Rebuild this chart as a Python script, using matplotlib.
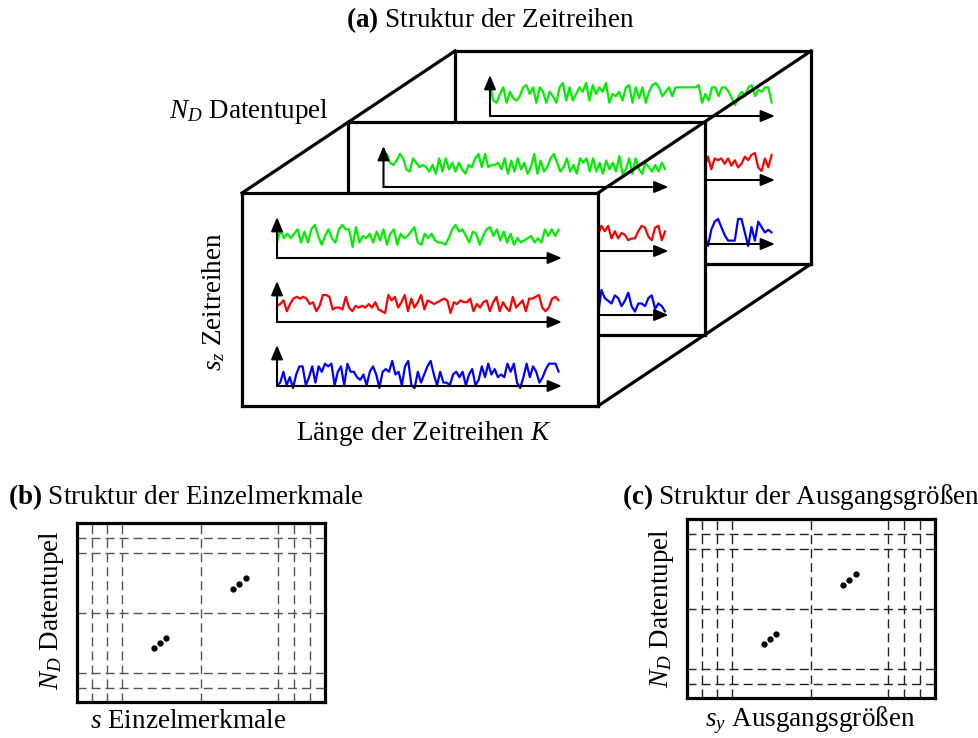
import numpy as np
import matplotlib
matplotlib.use('Agg')
import matplotlib.pyplot as plt

plt.rcParams['font.family'] = ['Liberation Serif', 'DejaVu Serif']
plt.rcParams['mathtext.fontset'] = 'custom'
plt.rcParams['mathtext.rm'] = 'Liberation Serif'
plt.rcParams['mathtext.it'] = 'Liberation Serif:italic'
plt.rcParams['mathtext.bf'] = 'Liberation Serif:bold'

# ---- data: time series (amplitude 0..10) ----
K = 85  # samples per series
front_green = [2, 8, 4, 6, 4, 6, 8, 2, 7, 2, 8, 10, 5, 1, 5, 8, 4, 2, 8, 10, 8, 8, 0, 9, 2, 5, 4, 6, 2, 7,
               3, 8, 1, 6, 8, 1, 6, 4, 5, 7, 9, 2, 1, 6, 4, 6, 3, 2, 2, 1, 4, 8, 10, 7, 8, 5, 2, 7, 6, 1,
               5, 8, 9, 5, 8, 3, 7, 2, 6, 1, 4, 2, 3, 4, 5, 2, 4, 2, 8, 5, 8, 5, 8]
front_red = [4, 5, 7, 1, 5, 8, 9, 8, 9, 8, 5, 6, 1, 4, 10, 10, 9, 2, 3, 3, 2, 9, 3, 1, 4, 3, 4, 3, 5, 3,
             6, 2, 1, 0, 10, 7, 9, 3, 6, 10, 1, 8, 3, 6, 10, 2, 7, 6, 5, 6, 7, 8, 7, 0, 6, 5, 7, 6, 6, 8,
             1, 5, 3, 6, 7, 1, 6, 9, 1, 6, 3, 1, 9, 3, 5, 7, 1, 8, 8, 9, 10, 3, 1, 3, 8, 9, 7]
front_blue = [1, 2, 6, 1, 4, 0, 5, 8, 8, 1, 4, 8, 2, 8, 6, 9, 8, 9, 1, 6, 8, 1, 9, 6, 6, 4, 3, 5, 1, 6,
              8, 5, 0, 6, 7, 6, 10, 5, 6, 1, 8, 10, 1, 0, 6, 2, 5, 8, 10, 5, 1, 6, 2, 2, 1, 5, 6, 4, 6, 1,
              5, 7, 1, 3, 8, 4, 9, 5, 7, 4, 5, 4, 9, 6, 9, 2, 0, 4, 9, 4, 8, 6, 2, 4, 7, 9, 9, 9, 6]
mid_green = [8, 10, 6, 5, 7, 10, 8, 3, 2, 8, 6, 4, 5, 4, 2, 5, 1, 8, 2, 8, 3, 6, 2, 6, 3, 1, 5, 4, 8, 10,
             4, 10, 4, 5, 5, 6, 3, 8, 1, 7, 2, 8, 3, 6, 1, 4, 10, 1, 7, 2, 4, 8, 10, 6, 2, 4, 8, 2, 5, 1,
             8, 6, 8, 2, 8, 2, 6, 1, 7, 3, 6, 2, 9, 1, 3, 8, 1, 8, 3, 1, 6, 4, 2, 5, 2, 6, 3]
# only the visible tail of the hidden series
mid_red = [3, 7, 6, 7, 4, 9, 6, 9, 2, 6, 2, 5, 4, 1, 2, 2, 6, 9, 8, 3, 1, 8, 9, 1, 6]
mid_blue = [6, 3, 1, 4, 1, 10, 1, 10, 7, 6, 5, 8, 7, 4, 6, 9, 4, 2, 5, 5, 4, 7, 8, 3, 5, 4, 2]
back_green = [9, 2, 1, 5, 8, 1, 6, 3, 2, 4, 8, 9, 5, 8, 1, 8, 6, 1, 6, 4, 1, 8, 10, 2, 8, 2, 5, 8, 6, 10,
              2, 9, 5, 8, 6, 10, 1, 5, 4, 6, 2, 8, 9, 1, 8, 3, 8, 1, 6, 9, 10, 8, 4, 6, 8, 4, 8, 8, 8, 8,
              8, 8, 8, 9, 1, 5, 2, 8, 8, 4, 8, 8, 6, 3, 0, 4, 6, 4, 8, 9, 4, 7, 6, 8, 8, 1]
back_red = [5, 8, 3, 2, 8, 1, 7, 6, 7, 4, 7, 3, 6, 2, 4, 8, 6, 9, 10, 2, 0, 7, 2, 9]
back_blue = [3, 6, 10, 4, 0, 6, 9, 10, 7, 4, 2, 2, 2, 10, 10, 5, 0, 7, 2, 9, 7, 5, 6, 5]

colors = ['#00ee00', '#ff0000', '#0000ff']
ylims = [(-5, 13.6), (-5, 17.8), (0.74, 15.9)]

# grid panels (b) and (c): fractions of the box
grid_x = [0.06, 0.12, 0.18, 0.50, 0.81, 0.875, 0.94]
grid_y = [0.084, 0.168, 0.50, 0.84, 0.92]
dots_x = [0.31, 0.335, 0.36, 0.63, 0.655, 0.68]
dots_y = [0.70, 0.67, 0.64, 0.37, 0.34, 0.31]

W, H = 979, 738
fig = plt.figure(figsize=(W / 100, H / 100), dpi=100)


def rect(x0, y0, x1, y1):
    return [x0 / W, 1 - y1 / H, (x1 - x0) / W, (y1 - y0) / H]


arrow = dict(arrowstyle='-|>,head_length=0.6,head_width=0.25', color='black',
             lw=1.5, mutation_scale=14, shrinkA=0, shrinkB=0)

# ---- (a) stacked boxes ----
box_w, box_h = 356, 213
fx, fy = 242, 193
dx, dy = 106.5, -71
boxes = [(2, [back_green, back_red, back_blue]),
         (1, [mid_green, mid_red, mid_blue]),
         (0, [front_green, front_red, front_blue])]

for depth, series in boxes:
    L = fx + depth * dx
    T = fy + depth * dy
    z = 3 - depth
    bx = fig.add_axes(rect(L, T, L + box_w, T + box_h), zorder=z)
    bx.set_xticks([])
    bx.set_yticks([])
    bx.set_facecolor('white')
    for s in bx.spines.values():
        s.set_linewidth(2.3)
    for i, vals in enumerate(series):
        top = T + 24 + 64 * i
        base = T + 65 + 64 * i
        cx = fig.add_axes(rect(L + 35, top, L + 320, base), zorder=z + 0.1)
        cx.set_xlim(0, K)
        cx.set_ylim(*ylims[i])
        cx.axis('off')
        cx.patch.set_visible(False)
        n = len(vals)
        x = np.linspace(0, K - 1, n) if n > 40 else np.arange(K - n, K)
        cx.plot(x, vals, color=colors[i], lw=1.6, clip_on=False,
                solid_joinstyle='round', solid_capstyle='round')
        cx.annotate('', xy=(0, 1), xytext=(0, 0), xycoords='axes fraction',
                    arrowprops=arrow, annotation_clip=False)
        cx.annotate('', xy=(1, 0), xytext=(0, 0), xycoords='axes fraction',
                    arrowprops=arrow, annotation_clip=False)

# overlay for connecting edges and texts
ax = fig.add_axes([0, 0, 1, 1], zorder=10)
ax.set_xlim(0, W)
ax.set_ylim(H, 0)
ax.axis('off')
ax.patch.set_visible(False)
for cx_, cy_ in [(fx, fy), (fx + box_w, fy), (fx + box_w, fy + box_h)]:
    ax.plot([cx_, cx_ + 2 * dx], [cy_, cy_ + 2 * dy], color='black', lw=2.3,
            solid_capstyle='projecting')

fs = 19.5
ax.text(490, 20, r'$\mathbf{(a)}$ Struktur der Zeitreihen', fontsize=fs, ha='center', va='center')
ax.text(249, 112, r'$N_D$ Datentupel', fontsize=fs, ha='center', va='center')
ax.text(214, 302, r'$s_z$ Zeitreihen', fontsize=fs, ha='center', va='center', rotation=90)
ax.text(424, 433, r'Länge der Zeitreihen $K$', fontsize=fs, ha='center', va='center')
ax.text(8, 497, r'$\mathbf{(b)}$ Struktur der Einzelmerkmale', fontsize=fs, ha='left', va='center')
ax.text(622, 497, r'$\mathbf{(c)}$ Struktur der Ausgangsgrößen', fontsize=fs, ha='left', va='center')
ax.text(52, 610, r'$N_D$ Datentupel', fontsize=fs, ha='center', va='center', rotation=90)
ax.text(662, 608, r'$N_D$ Datentupel', fontsize=fs, ha='center', va='center', rotation=90)
ax.text(188, 722, r'$s$ Einzelmerkmale', fontsize=fs, ha='center', va='center')
ax.text(810, 720, r'$s_y$ Ausgangsgrößen', fontsize=fs, ha='center', va='center')

# ---- (b) and (c) grid panels ----
for (x0, y0), gcol in [((77, 523), '#555555'), ((687, 519), '#222222')]:
    gx = fig.add_axes(rect(x0, y0, x0 + 248, y0 + 179), zorder=5)
    gx.set_xlim(0, 1)
    gx.set_ylim(1, 0)
    gx.set_xticks([])
    gx.set_yticks([])
    for s in gx.spines.values():
        s.set_linewidth(2.3)
    for v in grid_x:
        gx.axvline(v, color=gcol, lw=1, dashes=(6.5, 3.6))
    for v in grid_y:
        gx.axhline(v, color=gcol, lw=1, dashes=(6.5, 3.6))
    gx.plot(dots_x, dots_y, 'o', color='black', ms=3.5, ls='none')

fig.savefig('out.png', dpi=100)
